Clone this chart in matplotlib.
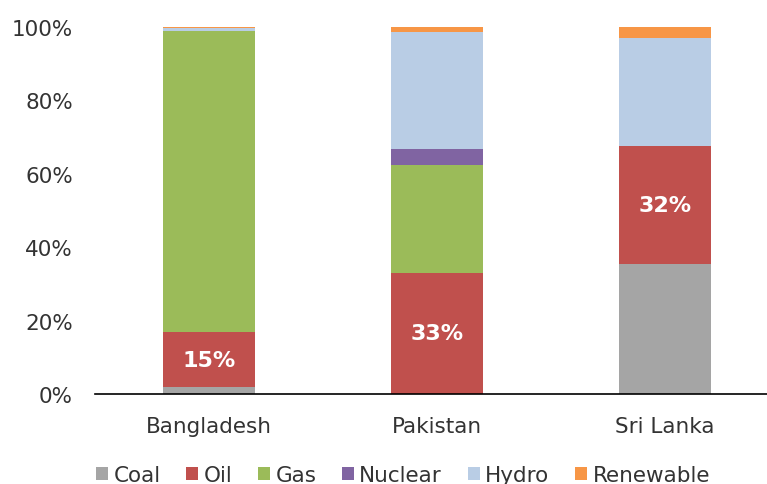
import numpy as np
import matplotlib.pyplot as plt

# Power generation mix by fuel (% share)
countries = ['Bangladesh', 'Pakistan', 'Sri Lanka']
fuels = ['Coal', 'Oil', 'Gas', 'Nuclear', 'Hydro', 'Renewable']
coal = [1.9, 0.0, 35.4]
oil = [15.0, 33.0, 32.2]
gas = [81.9, 29.4, 0.0]
nuclear = [0.0, 4.4, 0.0]
hydro = [0.9, 31.8, 29.4]
renewable = [0.3, 1.4, 3.0]
oil_labels = ['15%', '33%', '32%']

colors = ['#A5A5A5', '#C0504D', '#9BBB59', '#8064A2', '#B9CDE5', '#F79646']
series = [coal, oil, gas, nuclear, hydro, renewable]

plt.rcParams['font.family'] = ['DejaVu Sans']

fig = plt.figure(figsize=(7.67, 4.85), dpi=100)
ax = fig.add_axes([95 / 767, 1 - 395 / 485, 1 - 95 / 767, (395 - 28) / 485])

x = np.arange(len(countries))
bottom = np.zeros(len(countries))
bars = []
for name, vals, c in zip(fuels, series, colors):
    b = ax.bar(x, vals, width=0.4, bottom=bottom, color=c, label=name, linewidth=0)
    bars.append(b)
    if name == 'Oil':
        for xi, bt, v, lab in zip(x, bottom, vals, oil_labels):
            ax.text(xi, bt + v / 2, lab, ha='center', va='center', color='white',
                    fontsize=16, fontweight='bold')
    bottom += np.array(vals)

ax.set_xlim(-0.5, (767 - 209) / 228)
ax.set_ylim(0, 100)
ax.set_yticks(np.arange(0, 101, 20))
ax.set_yticklabels([f'{v}%' for v in range(0, 101, 20)], fontsize=15.5, color='#333333')
ax.set_xticks(x)
ax.set_xticklabels(countries, fontsize=15.5, color='#333333')
ax.tick_params(axis='y', length=0, pad=16)
ax.tick_params(axis='x', length=0, pad=16)
for s in ['top', 'right', 'left']:
    ax.spines[s].set_visible(False)
ax.spines['bottom'].set_linewidth(1.2)

fig.legend(handles=bars, labels=fuels, loc='center', bbox_to_anchor=(403 / 767, 1 - 476 / 485),
           ncol=6, frameon=False, fontsize=15.5, handlelength=0.55, handleheight=0.55,
           handletextpad=0.25, columnspacing=1.2, labelcolor='#333333')

fig.savefig('out.png', dpi=100)
